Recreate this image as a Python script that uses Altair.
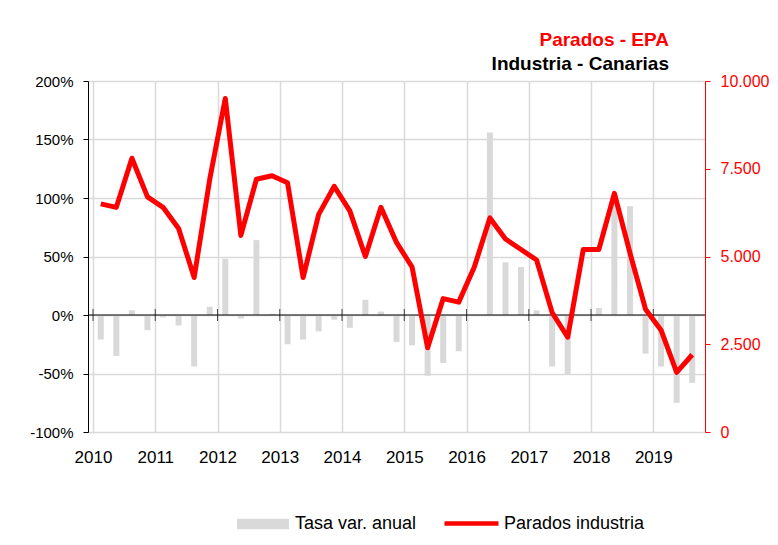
import altair as alt
import pandas as pd

# ---------------- data ----------------
years = [2010, 2011, 2012, 2013, 2014, 2015, 2016, 2017, 2018, 2019]
quarters = [f"{y}T{q}" for y in years for q in (1, 2, 3, 4)][:39]

# Tasa de variación anual (%)
tasa = [-21, -35, 4, -13,
        -2, -9, -44, 7,
        48, -3, 64, 1,
        -25, -21, -14, -4,
        -11, 13, 3, -23,
        -26, -52, -41, -31,
        0, 156, 45, 41,
        4, -44, -51, 0,
        6, 100, 93, -33,
        -44, -75, -58]

# Parados industria
parados = [6500, 6400, 7800, 6700,
           6400, 5800, 4400, 7200,
           9500, 5600, 7200, 7300,
           7100, 4400, 6200, 7000,
           6300, 5000, 6400, 5400,
           4700, 2400, 3800, 3700,
           4700, 6100, 5500, 5200,
           4900, 3400, 2700, 5200,
           5200, 6800, 5100, 3500,
           2900, 1700, 2200]

left_ticks = [-100, -50, 0, 50, 100, 150, 200]
right_ticks = [0, 2500, 5000, 7500, 10000]

series_bar = "Tasa var. anual"
series_line = "Parados industria"

df = pd.DataFrame({"trimestre": quarters, "tasa": tasa, "parados": parados})
df["pos"] = [i + 0.5 for i in range(len(df))]
df["s1"] = series_bar
df["s2"] = series_line

year_pos = [4 * i for i in range(len(years))]
ticks_df = pd.DataFrame({"anio": years, "pos": year_pos, "y": [0] * len(years)})
zero_df = pd.DataFrame({"y": [0]})

FONT = "Liberation Sans"
GRID = "#d9d9d9"
RED = "#ff0000"

xscale = alt.Scale(domain=[0, len(quarters)], nice=False, zero=False)
yl = alt.Scale(domain=[-100, 200], nice=False)
yr = alt.Scale(domain=[0, 10000], nice=False)

xaxis = alt.Axis(values=year_pos, labelExpr=f"'' + ({years[0]} + datum.value / 4)",
                 title=None, domain=False, ticks=False, grid=True, gridColor=GRID,
                 gridWidth=1.5, labelFont=FONT, labelFontSize=17, labelColor="black",
                 labelPadding=17, labelAngle=0)

yaxis_left = alt.Axis(values=left_ticks, labelExpr="datum.value + '%'", title=None,
                      grid=True, gridColor=GRID, gridWidth=1.5, domainColor="black",
                      domainWidth=1, tickColor="black", tickSize=5, labelFont=FONT,
                      labelFontSize=15, labelColor="black", labelPadding=10)

yaxis_right = alt.Axis(values=right_ticks, orient="right", title=None, grid=False,
                       labelExpr="replace(format(datum.value, ','), ',', '.')",
                       domainColor=RED, domainWidth=1, tickColor=RED, tickSize=5,
                       labelFont=FONT, labelFontSize=16, labelColor=RED, labelPadding=10)

bars = alt.Chart(df).mark_bar(size=6, orient="vertical").encode(
    x=alt.X("pos:Q", scale=xscale, axis=xaxis),
    y=alt.Y("tasa:Q", scale=yl, axis=yaxis_left),
    fill=alt.Fill("s1:N", scale=alt.Scale(domain=[series_bar], range=[GRID]),
                  legend=alt.Legend(orient="none", legendX=149, legendY=417, title=None,
                                    symbolType="M-1,-0.2H1V0.2H-1Z", symbolSize=2704,
                                    symbolStrokeWidth=0, labelFont=FONT, labelFontSize=18,
                                    labelColor="black", labelOffset=6)),
)

zero = alt.Chart(zero_df).mark_rule(color="black", strokeWidth=1).encode(
    y=alt.Y("y:Q", scale=yl, axis=yaxis_left)
)

xticks = alt.Chart(ticks_df).mark_tick(orient="vertical", size=12, thickness=1,
                                        color="black").encode(
    x=alt.X("pos:Q", scale=xscale, axis=xaxis),
    y=alt.Y("y:Q", scale=yl, axis=yaxis_left),
)

line = alt.Chart(df).mark_line(strokeWidth=5, strokeJoin="round").encode(
    x=alt.X("pos:Q", scale=xscale, axis=xaxis),
    y=alt.Y("parados:Q", scale=yr, axis=yaxis_right),
    stroke=alt.Stroke("s2:N", scale=alt.Scale(domain=[series_line], range=[RED]),
                      legend=alt.Legend(orient="none", legendX=354, legendY=413, title=None,
                                        symbolType="stroke", symbolSize=2916,
                                        symbolStrokeWidth=4.5, labelFont=FONT,
                                        labelFontSize=18, labelColor="black",
                                        labelOffset=3)),
)

left = alt.layer(bars, zero, xticks)

chart = alt.layer(left, line).resolve_scale(y="independent").properties(
    width=617,
    height=351,
    background="white",
    title=alt.TitleParams(text="Parados - EPA", subtitle="Industria - Canarias",
                          anchor="end", frame="group", dx=-36, offset=-1,
                          font=FONT, fontSize=19, fontWeight="bold", color=RED,
                          subtitleFont=FONT, subtitleFontSize=19,
                          subtitleFontWeight="bold", subtitleColor="black",
                          subtitlePadding=5),
    autosize=alt.AutoSizeParams(type="none"),
    padding={"left": 80, "top": 73, "right": 65, "bottom": 105},
).configure_view(stroke=None)

chart.save("out.html", embed_options={"renderer": "svg", "actions": False})
